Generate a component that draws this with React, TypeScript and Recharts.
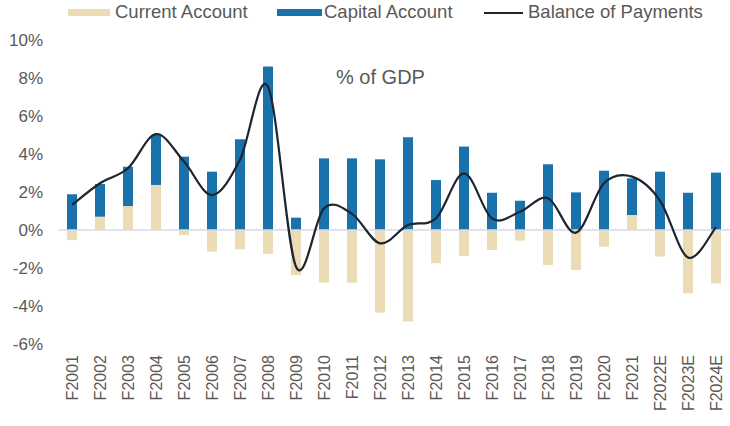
import { Bar, ComposedChart, Line, ReferenceLine, XAxis, YAxis } from "recharts"

const years = [
  "F2001", "F2002", "F2003", "F2004", "F2005", "F2006", "F2007", "F2008",
  "F2009", "F2010", "F2011", "F2012", "F2013", "F2014", "F2015", "F2016",
  "F2017", "F2018", "F2019", "F2020", "F2021", "F2022E", "F2023E", "F2024E",
]
const currentAccount = [
  -0.53, 0.7, 1.26, 2.37, -0.26, -1.14, -1.02, -1.26, -2.37, -2.77, -2.77, -4.35,
  -4.82, -1.75, -1.37, -1.05, -0.56, -1.84, -2.1, -0.88, 0.79, -1.4, -3.33, -2.81,
]
const capitalAccount = [
  1.88, 1.72, 2.07, 2.63, 3.86, 3.07, 4.77, 8.6, 0.65, 3.77, 3.77, 3.72,
  4.88, 2.63, 4.39, 1.96, 1.54, 3.46, 1.98, 3.12, 1.93, 3.07, 1.96, 3.02,
]
const balance = [
  1.32, 2.46, 3.25, 5.05, 3.6, 1.84, 3.7, 7.54, -1.93, 1.14, 0.85, -0.7,
  0.26, 0.61, 2.98, 0.61, 0.96, 1.67, -0.14, 2.46, 2.81, 1.55, -1.45, 0.15,
]
const yTicks = [-6, -4, -2, 0, 2, 4, 6, 8, 10]

const data = years.map((year, i) => ({
  year,
  ca: currentAccount[i],
  ka: capitalAccount[i],
  bop: balance[i],
}))

const BLUE = "#1a72ad"
const BEIGE = "#ebdcb6"
const LINE = "#1c2530"
const TEXT = "#595959"
const FONT = "'Liberation Sans', Arial, sans-serif"

// excel-style smoothed line (cardinal spline, tension 0)
function excelSmooth(context: any) {
  let pts: [number, number][] = []
  return {
    areaStart() {},
    areaEnd() {},
    lineStart() {
      pts = []
    },
    lineEnd() {
      const n = pts.length
      if (!n) return
      context.moveTo(pts[0][0], pts[0][1])
      for (let i = 0; i < n - 1; i++) {
        const p0 = pts[Math.max(i - 1, 0)]
        const p1 = pts[i]
        const p2 = pts[i + 1]
        const p3 = pts[Math.min(i + 2, n - 1)]
        context.bezierCurveTo(
          p1[0] + (p2[0] - p0[0]) / 6,
          p1[1] + (p2[1] - p0[1]) / 6,
          p2[0] - (p3[0] - p1[0]) / 6,
          p2[1] - (p3[1] - p1[1]) / 6,
          p2[0],
          p2[1]
        )
      }
    },
    point(x: number, y: number) {
      pts.push([+x, +y])
    },
  }
}

function YearTick({ x, y, payload }: any) {
  return (
    <text
      transform={`translate(${x},${y + 3}) rotate(-90)`}
      textAnchor="end"
      dominantBaseline="central"
      fill={TEXT}
      fontSize={16}
      fontFamily={FONT}
    >
      {payload.value}
    </text>
  )
}

function LegendRow() {
  const item = { position: "absolute" as const, top: 2, fontSize: 18.5, color: TEXT, fontFamily: FONT, lineHeight: "20px" }
  return (
    <>
      <div style={{ position: "absolute", left: 68, top: 9, width: 42, height: 7, background: BEIGE }} />
      <div style={{ ...item, left: 115 }}>Current Account</div>
      <div style={{ position: "absolute", left: 277, top: 9, width: 45, height: 7, background: BLUE }} />
      <div style={{ ...item, left: 324 }}>Capital Account</div>
      <div style={{ position: "absolute", left: 484, top: 12, width: 39, height: 2, background: LINE }} />
      <div style={{ ...item, left: 528 }}>Balance of Payments</div>
    </>
  )
}

export default function App() {
  return (
    <div style={{ position: "absolute", left: 0, top: 0, width: 730, height: 426, background: "#fff" }}>
      <ComposedChart
        width={730}
        height={426}
        data={data}
        stackOffset="sign"
        margin={{ top: 40, right: 0, bottom: 0, left: 0 }}
      >
        <XAxis
          dataKey="year"
          axisLine={false}
          tickLine={false}
          interval={0}
          height={82}
          tick={<YearTick />}
        />
        <YAxis
          domain={[-6, 10]}
          ticks={yTicks}
          width={58}
          axisLine={false}
          tickLine={false}
          tickMargin={9}
          tickFormatter={(v: number) => `${v}%`}
          tick={{ fill: TEXT, fontSize: 17, fontFamily: FONT }}
        />
        <ReferenceLine y={0} stroke="#d6dbe3" strokeWidth={1.5} />
        <Bar dataKey="ca" stackId="a" fill={BEIGE} barSize={10} isAnimationActive={false} />
        <Bar dataKey="ka" stackId="a" fill={BLUE} barSize={10} isAnimationActive={false} />
        <Line
          dataKey="bop"
          type={excelSmooth as any}
          stroke={LINE}
          strokeWidth={2.2}
          dot={false}
          activeDot={false}
          isAnimationActive={false}
        />
      </ComposedChart>
      <LegendRow />
      <div style={{ position: "absolute", left: 336, top: 66, fontSize: 20, color: TEXT, fontFamily: FONT }}>% of GDP</div>
    </div>
  )
}
